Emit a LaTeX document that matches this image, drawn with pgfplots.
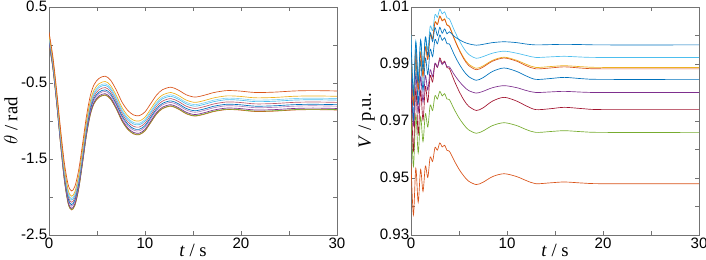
\documentclass[border=0pt]{standalone}
\usepackage{fontspec}
\setmainfont{Liberation Sans}
\newfontfamily\seriffont{Liberation Serif}
\usepackage{pgfplots}
\usepackage{pgfplotstable}
\pgfplotsset{compat=1.18}
\definecolor{mblue}{rgb}{0,0.447,0.741}
\definecolor{morange}{rgb}{0.85,0.325,0.098}
\definecolor{myellow}{rgb}{0.929,0.694,0.125}
\definecolor{mpurple}{rgb}{0.494,0.184,0.556}
\definecolor{mgreen}{rgb}{0.466,0.674,0.188}
\definecolor{mlblue}{rgb}{0.301,0.745,0.933}
\definecolor{mred}{rgb}{0.635,0.078,0.184}

\pgfplotstableread{
t a b c d e f g h i j
0 0.17 0.13 0.11 0.10 0.08 0.06 0.05 0.03 0.02 0.02
0.4 -0.15 -0.19 -0.21 -0.22 -0.24 -0.26 -0.27 -0.29 -0.30 -0.30
0.8 -0.60 -0.646 -0.668 -0.682 -0.70 -0.72 -0.736 -0.755 -0.767 -0.77
1.2 -1.10 -1.154 -1.18 -1.196 -1.22 -1.242 -1.26 -1.282 -1.296 -1.30
1.6 -1.55 -1.612 -1.642 -1.66 -1.688 -1.713 -1.734 -1.759 -1.775 -1.78
2.0 -1.84 -1.91 -1.94 -1.96 -1.99 -2.02 -2.04 -2.07 -2.085 -2.09
2.35 -1.92 -1.99 -2.02 -2.04 -2.07 -2.10 -2.12 -2.15 -2.165 -2.17
2.7 -1.86 -1.93 -1.96 -1.98 -2.01 -2.04 -2.06 -2.09 -2.105 -2.11
3.1 -1.64 -1.71 -1.74 -1.76 -1.79 -1.82 -1.84 -1.87 -1.885 -1.89
3.5 -1.30 -1.37 -1.40 -1.42 -1.45 -1.48 -1.50 -1.53 -1.545 -1.55
3.9 -0.94 -1.01 -1.04 -1.06 -1.09 -1.12 -1.14 -1.17 -1.185 -1.19
4.3 -0.67 -0.74 -0.77 -0.79 -0.82 -0.85 -0.87 -0.90 -0.915 -0.92
4.7 -0.52 -0.59 -0.62 -0.64 -0.67 -0.70 -0.72 -0.75 -0.765 -0.77
5.2 -0.44 -0.51 -0.54 -0.56 -0.59 -0.62 -0.64 -0.67 -0.685 -0.69
5.85 -0.41 -0.48 -0.51 -0.53 -0.56 -0.59 -0.61 -0.64 -0.655 -0.66
6.4 -0.46 -0.53 -0.56 -0.58 -0.61 -0.64 -0.66 -0.69 -0.705 -0.71
7.0 -0.59 -0.66 -0.69 -0.71 -0.74 -0.77 -0.79 -0.82 -0.835 -0.84
7.6 -0.75 -0.82 -0.85 -0.87 -0.90 -0.93 -0.95 -0.98 -0.995 -1.00
8.2 -0.86 -0.93 -0.96 -0.98 -1.01 -1.04 -1.06 -1.09 -1.105 -1.11
8.8 -0.92 -0.99 -1.02 -1.04 -1.07 -1.10 -1.12 -1.15 -1.165 -1.17
9.4 -0.93 -1.00 -1.03 -1.05 -1.08 -1.11 -1.13 -1.16 -1.175 -1.18
10.0 -0.88 -0.95 -0.98 -1.00 -1.03 -1.06 -1.08 -1.11 -1.125 -1.13
10.6 -0.77 -0.84 -0.87 -0.89 -0.92 -0.95 -0.97 -1.00 -1.015 -1.02
11.2 -0.66 -0.73 -0.76 -0.78 -0.81 -0.84 -0.86 -0.89 -0.905 -0.91
11.8 -0.59 -0.66 -0.69 -0.71 -0.74 -0.77 -0.79 -0.82 -0.835 -0.84
12.7 -0.555 -0.625 -0.655 -0.675 -0.705 -0.735 -0.755 -0.785 -0.80 -0.805
13.5 -0.595 -0.665 -0.695 -0.715 -0.745 -0.775 -0.795 -0.825 -0.84 -0.845
14.3 -0.655 -0.725 -0.755 -0.775 -0.805 -0.835 -0.855 -0.885 -0.90 -0.905
15.2 -0.685 -0.755 -0.785 -0.805 -0.835 -0.865 -0.885 -0.915 -0.93 -0.935
16.2 -0.66 -0.73 -0.76 -0.78 -0.81 -0.84 -0.86 -0.89 -0.905 -0.91
17.2 -0.625 -0.695 -0.725 -0.745 -0.775 -0.805 -0.825 -0.855 -0.87 -0.875
18.5 -0.60 -0.67 -0.70 -0.72 -0.75 -0.78 -0.80 -0.83 -0.845 -0.85
19.8 -0.605 -0.675 -0.705 -0.725 -0.755 -0.785 -0.805 -0.835 -0.85 -0.855
21.5 -0.625 -0.695 -0.725 -0.745 -0.775 -0.805 -0.825 -0.855 -0.87 -0.875
23.5 -0.62 -0.69 -0.72 -0.74 -0.77 -0.80 -0.82 -0.85 -0.865 -0.87
25.5 -0.605 -0.675 -0.705 -0.725 -0.755 -0.785 -0.805 -0.835 -0.85 -0.855
27.5 -0.60 -0.67 -0.70 -0.72 -0.75 -0.78 -0.80 -0.83 -0.845 -0.85
30 -0.605 -0.675 -0.705 -0.725 -0.755 -0.785 -0.805 -0.835 -0.85 -0.855
}\thetadata

\pgfplotstableread{
t a b c d e f g h i
0 0.9985 1.0003 0.9963 0.9968 0.9942 0.9880 0.9836 0.9740 0.9552
0.25 0.9790 0.9799 0.9757 0.9762 0.9704 0.9684 0.9595 0.9540 0.9370
0.5 0.9975 0.9982 0.9941 0.9946 0.9922 0.9865 0.9813 0.9722 0.9534
0.75 0.9835 0.9850 0.9809 0.9814 0.9761 0.9730 0.9654 0.9588 0.9415
1.0 0.9985 0.9978 0.9938 0.9943 0.9912 0.9855 0.9806 0.9715 0.9530
1.25 0.9880 0.9894 0.9856 0.9860 0.9807 0.9766 0.9703 0.9628 0.9453
1.5 0.9995 0.9994 0.9958 0.9962 0.9921 0.9859 0.9821 0.9726 0.9542
1.75 0.9930 0.9951 0.9916 0.9920 0.9863 0.9809 0.9766 0.9679 0.9502
2.0 1.0010 1.0033 1.0001 1.0005 0.9952 0.9880 0.9860 0.9756 0.9574
2.25 0.9979 1.0017 0.9988 0.9990 0.9926 0.9856 0.9837 0.9737 0.9558
2.5 1.0028 1.0073 1.0046 1.0048 0.9986 0.9903 0.9901 0.9789 0.9607
2.75 1.0000 1.0064 1.0038 1.0040 0.9971 0.9889 0.9888 0.9777 0.9598
3.0 1.0029 1.0092 1.0067 1.0069 1.0002 0.9914 0.9921 0.9804 0.9623
3.25 1.0008 1.0076 1.0051 1.0053 0.9983 0.9898 0.9902 0.9788 0.9609
3.5 1.0023 1.0083 1.0057 1.0059 0.9992 0.9907 0.9910 0.9796 0.9615
3.75 1.0006 1.0062 1.0036 1.0038 0.9971 0.9890 0.9887 0.9777 0.9597
4.0 1.0013 1.0058 1.0031 1.0033 0.9970 0.9890 0.9884 0.9775 0.9594
4.5 0.9997 1.0019 0.9988 0.9991 0.9933 0.9863 0.9842 0.9741 0.9561
5.0 0.9986 0.9984 0.9950 0.9953 0.9901 0.9840 0.9805 0.9711 0.9531
5.5 0.9977 0.9955 0.9918 0.9922 0.9875 0.9821 0.9774 0.9687 0.9507
6.0 0.9971 0.9934 0.9895 0.9900 0.9856 0.9807 0.9752 0.9669 0.9489
6.8 0.9966 0.9920 0.9880 0.9885 0.9843 0.9798 0.9737 0.9657 0.9477
7.5 0.9969 0.9926 0.9889 0.9893 0.9852 0.9804 0.9746 0.9665 0.9485
8.5 0.9975 0.9938 0.9910 0.9913 0.9874 0.9817 0.9770 0.9684 0.9505
9.7 0.9978 0.9945 0.9921 0.9924 0.9886 0.9824 0.9783 0.9694 0.9515
11 0.9975 0.9938 0.9910 0.9913 0.9874 0.9817 0.9770 0.9684 0.9505
12 0.9970 0.9930 0.9894 0.9899 0.9858 0.9807 0.9753 0.9670 0.9491
13 0.9967 0.9923 0.9883 0.9888 0.9846 0.9800 0.9740 0.9660 0.9480
14.5 0.9968 0.9925 0.9886 0.9891 0.9849 0.9802 0.9743 0.9663 0.9483
16 0.9969 0.9927 0.9890 0.9894 0.9853 0.9804 0.9748 0.9666 0.9486
18 0.9968 0.9924 0.9885 0.9890 0.9848 0.9801 0.9743 0.9662 0.9482
20 0.9967 0.9923 0.9883 0.9888 0.9846 0.9800 0.9740 0.9660 0.9480
30 0.9967 0.9923 0.9883 0.9888 0.9846 0.9800 0.9740 0.9660 0.9480
}\vdata

\pgfplotsset{
  myax/.style={
    scale only axis, width=216pt, height=171pt,
    xmin=0, xmax=30,
    axis line style={black!55, line width=0.5pt},
    tick style={black!55, line width=0.4pt},
    major tick length=3pt, minor tick length=3pt,
    tick align=inside,
    xtick={0,10,20,30}, xticklabels={0,10,20,30},
    minor xtick={5,15,25},
    tick label style={font=\fontsize{11.3}{13}\selectfont, inner sep=1.2pt},
    xticklabel style={yshift=-1.2pt},
    yticklabel style={yshift=0.6pt},
    label style={font=\fontsize{14}{16}\selectfont\seriffont},
    xlabel style={at={(axis description cs:0.5,0)}, anchor=north, inner sep=0pt, yshift=-7pt},
    /pgf/number format/assume math mode=true,
    every axis plot/.append style={line width=0.5pt, smooth, no markers},
  }
}

\begin{document}
\begin{tikzpicture}
\begin{axis}[myax, at={(0,0)}, anchor=south west,
  ymin=-2.5, ymax=0.5,
  ytick={-2.5,-1.5,-0.5,0.5}, yticklabels={-2.5,-1.5,-0.5,0.5},
  minor ytick={-2,-1,0},
  xlabel={\textit{t} / s},
  ylabel={$\theta$ / rad},
  ylabel style={at={(axis description cs:-0.108,0.5)}, anchor=south, inner sep=0pt}]
\addplot[morange] table[x=t,y=j] {\thetadata};
\addplot[mgreen] table[x=t,y=i] {\thetadata};
\addplot[mpurple] table[x=t,y=h] {\thetadata};
\addplot[mpurple!60] table[x=t,y=g] {\thetadata};
\addplot[mblue] table[x=t,y=f] {\thetadata};
\addplot[mred!70] table[x=t,y=e] {\thetadata};
\addplot[mlblue] table[x=t,y=d] {\thetadata};
\addplot[mlblue!70] table[x=t,y=c] {\thetadata};
\addplot[myellow] table[x=t,y=b] {\thetadata};
\addplot[morange] table[x=t,y=a] {\thetadata};
\end{axis}
\begin{axis}[myax, at={(271.5pt,0)}, anchor=south west,
  ymin=0.93, ymax=1.01,
  ytick={0.93,0.95,0.97,0.99,1.01}, yticklabels={0.93,0.95,0.97,0.99,1.01},
  minor ytick={0.94,0.96,0.98,1.00},
  xlabel={\textit{t} / s},
  ylabel={\textit{V} / p.u.},
  ylabel style={at={(axis description cs:-0.125,0.5)}, anchor=south, inner sep=0pt}]
\addplot[morange] table[x=t,y=i] {\vdata};
\addplot[mgreen] table[x=t,y=h] {\vdata};
\addplot[mred] table[x=t,y=g] {\vdata};
\addplot[mpurple] table[x=t,y=f] {\vdata};
\addplot[mblue] table[x=t,y=e] {\vdata};
\addplot[myellow] table[x=t,y=d] {\vdata};
\addplot[morange] table[x=t,y=c] {\vdata};
\addplot[mlblue] table[x=t,y=b] {\vdata};
\addplot[mblue] table[x=t,y=a] {\vdata};
\end{axis}
\pgfresetboundingbox
\path (-36.75pt,-18.75pt) rectangle (492.75pt,176.25pt);
\end{tikzpicture}
\end{document}
